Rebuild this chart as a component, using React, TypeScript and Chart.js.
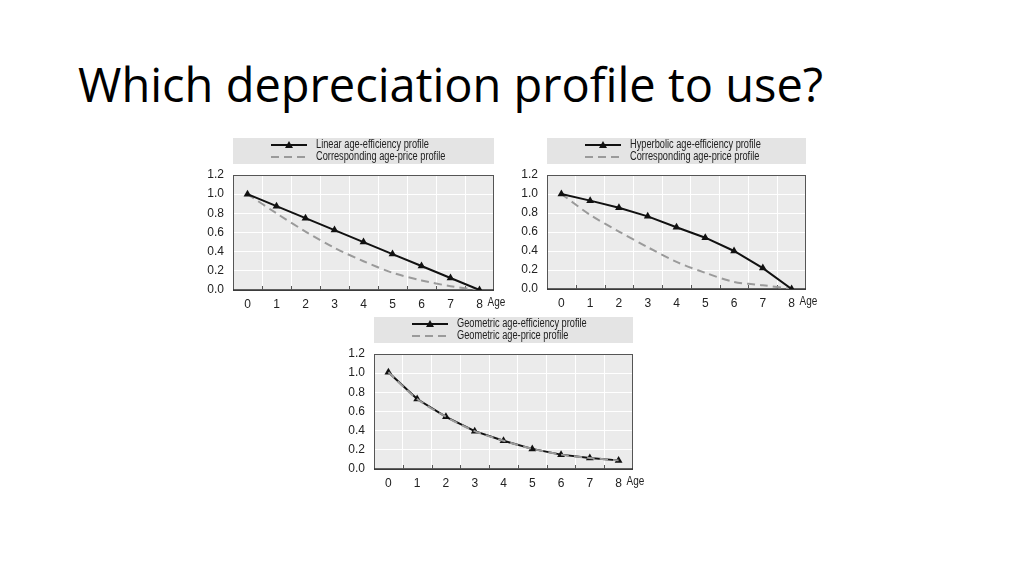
import React, { useEffect, useRef } from "react";
import { Chart, registerables } from "chart.js";

Chart.register(...registerables);

// ---- data ----
const ages = ["0", "1", "2", "3", "4", "5", "6", "7", "8"];

const linearEfficiency = [1.0, 0.875, 0.75, 0.625, 0.5, 0.375, 0.25, 0.125, 0.0];
const linearPrice = [1.0, 0.8, 0.61, 0.44, 0.3, 0.18, 0.1, 0.04, 0.0];

const hyperbolicEfficiency = [1.0, 0.93, 0.855, 0.765, 0.65, 0.54, 0.4, 0.22, 0.0];
const hyperbolicPrice = [1.0, 0.78, 0.605, 0.44, 0.285, 0.17, 0.075, 0.04, 0.0];

const geometricEfficiency = [1.01, 0.73, 0.545, 0.395, 0.295, 0.21, 0.15, 0.115, 0.09];
const geometricPrice = [1.01, 0.73, 0.545, 0.395, 0.295, 0.21, 0.15, 0.115, 0.09];

const yTicks = [0, 0.2, 0.4, 0.6, 0.8, 1.0, 1.2];

const titleText = "Which depreciation profile to use?";
const axisWord = "Age";

const chartFont = '"Liberation Sans", Arial, sans-serif';
const textColor = "#222222";

// draw horizontally condensed text (the original uses a narrow typeface)
function narrowText(ctx: any, text: string, x: number, y: number, size: number, squeeze: number) {
  ctx.save();
  ctx.font = `${size}px ${chartFont}`;
  ctx.fillStyle = textColor;
  ctx.textBaseline = "middle";
  ctx.textAlign = "left";
  ctx.translate(x, y);
  ctx.scale(squeeze, 1);
  ctx.fillText(text, 0, 0);
  ctx.restore();
}

// ---- plugins ----
const framePlugin = {
  id: "frame",
  beforeDraw(chart: any) {
    const { ctx, chartArea } = chart;
    const { left, top, right, bottom } = chartArea;
    ctx.save();
    ctx.fillStyle = "#ebebeb";
    ctx.fillRect(left, top, right - left, bottom - top);
    ctx.restore();
  },
  beforeDatasetsDraw(chart: any) {
    const { ctx, chartArea, scales } = chart;
    const { left, top, right, bottom } = chartArea;
    ctx.save();
    ctx.strokeStyle = "#555555";
    ctx.lineWidth = 1;
    ctx.strokeRect(left + 0.5, top + 0.5, right - left - 1, bottom - top);
    ctx.strokeStyle = "#333333";
    ctx.lineWidth = 1.5;
    ctx.beginPath();
    ctx.moveTo(left, bottom);
    ctx.lineTo(right, bottom);
    ctx.stroke();
    // small inward tick marks between categories
    const xs = scales.x;
    ctx.lineWidth = 1;
    ctx.strokeStyle = "#555555";
    for (let i = 1; i < ages.length; i++) {
      const x = Math.round((xs.getPixelForValue(i - 1) + xs.getPixelForValue(i)) / 2) + 0.5;
      ctx.beginPath();
      ctx.moveTo(x, bottom);
      ctx.lineTo(x, bottom - 4);
      ctx.stroke();
    }
    ctx.restore();
  },
  afterDraw(chart: any) {
    const { ctx, chartArea, scales } = chart;
    const { left, right, top, bottom } = chartArea;
    ctx.save();
    // "Age" label next to last category
    const xs = scales.x;
    narrowText(ctx, axisWord, xs.getPixelForValue(ages.length - 1) + 8, bottom + 13, 12.5, 0.8);

    // legend box
    const boxTop = top - 37;
    ctx.fillStyle = "#e4e4e4";
    ctx.fillRect(left, boxTop, right - left, 26);
    chart.data.datasets.forEach((ds: any, i: number) => {
      const y = boxTop + 7 + i * 12;
      const x0 = left + 38;
      const x1 = left + 74;
      ctx.save();
      ctx.strokeStyle = ds.borderColor;
      ctx.lineWidth = ds.borderWidth;
      ctx.setLineDash(ds.borderDash || []);
      ctx.beginPath();
      ctx.moveTo(x0, y);
      ctx.lineTo(x1, y);
      ctx.stroke();
      ctx.restore();
      if (ds.pointRadius > 0) {
        const cx = (x0 + x1) / 2;
        ctx.fillStyle = ds.pointBackgroundColor;
        ctx.beginPath();
        ctx.moveTo(cx, y - 4);
        ctx.lineTo(cx + 4, y + 3);
        ctx.lineTo(cx - 4, y + 3);
        ctx.closePath();
        ctx.fill();
      }
      narrowText(ctx, ds.label, left + 83, y, 12, 0.77);
    });
    ctx.restore();
  },
};

type Props = {
  left: number;
  top: number;
  plotW: number;
  plotH: number;
  effLabel: string;
  priceLabel: string;
  eff: number[];
  price: number[];
  priceOnTop?: boolean;
};

const PAD_TOP = 43;
const Y_W = 40;
const PAD_RIGHT = 30;
const X_H = 24;

function ProfileChart(p: Props) {
  const ref = useRef<HTMLCanvasElement | null>(null);
  useEffect(() => {
    if (!ref.current) return;
    const effDs: any = {
      label: p.effLabel,
      data: p.eff,
      borderColor: "#111111",
      backgroundColor: "#111111",
      borderWidth: 2,
      pointStyle: "triangle",
      pointRadius: 4.5,
      pointBackgroundColor: "#111111",
      pointBorderColor: "#111111",
      pointBorderWidth: 0,
      tension: 0,
      order: p.priceOnTop ? 2 : 1,
    };
    const priceDs: any = {
      label: p.priceLabel,
      data: p.price,
      borderColor: "#9a9a9a",
      backgroundColor: "#9a9a9a",
      borderWidth: 2,
      borderDash: [8, 5],
      pointRadius: 0,
      tension: 0.3,
      order: p.priceOnTop ? 1 : 2,
    };
    const chart = new Chart(ref.current, {
      type: "line",
      data: { labels: ages, datasets: [effDs, priceDs] },
      options: {
        animation: false,
        responsive: false,
        maintainAspectRatio: false,
        layout: { padding: { top: PAD_TOP, right: PAD_RIGHT, left: 0, bottom: 0 } },
        plugins: { legend: { display: false }, tooltip: { enabled: false }, title: { display: false } },
        scales: {
          x: {
            type: "category",
            offset: true,
            grid: { offset: true, color: "#ffffff", lineWidth: 1, drawTicks: false },
            border: { display: false },
            ticks: { font: { family: chartFont, size: 12 }, color: textColor, padding: 7, maxRotation: 0 },
            afterFit(scale: any) {
              scale.height = X_H;
            },
          },
          y: {
            min: 0,
            max: 1.2,
            afterBuildTicks(scale: any) {
              scale.ticks = yTicks.map((v) => ({ value: v }));
            },
            grid: { color: "#ffffff", lineWidth: 1, drawTicks: false },
            border: { display: false },
            ticks: {
              font: { family: chartFont, size: 12 },
              color: textColor,
              padding: 9,
              callback: (v: any) => Number(v).toFixed(1),
            },
            afterFit(scale: any) {
              scale.width = Y_W;
            },
          },
        },
      },
      plugins: [framePlugin],
    } as any);
    return () => chart.destroy();
  }, []);
  const w = p.plotW + Y_W + PAD_RIGHT;
  const h = p.plotH + PAD_TOP + X_H;
  return (
    <div style={{ position: "absolute", left: p.left - Y_W, top: p.top - PAD_TOP, width: w, height: h }}>
      <canvas ref={ref} width={w} height={h} style={{ width: w, height: h, display: "block" }} />
    </div>
  );
}

export default function App() {
  return (
    <div
      style={{
        position: "fixed",
        left: 0,
        top: 0,
        width: 1024,
        height: 575,
        background: "#ffffff",
        overflow: "hidden",
      }}
    >
      <div
        style={{
          position: "absolute",
          left: 78,
          top: 61,
          fontFamily: '"Open Sans", "Noto Sans", sans-serif',
          fontSize: 47,
          lineHeight: 1,
          color: "#000000",
          whiteSpace: "nowrap",
        }}
      >
        {titleText}
      </div>
      <ProfileChart
        left={233}
        top={175}
        plotW={261}
        plotH={115}
        effLabel="Linear age-efficiency profile"
        priceLabel="Corresponding age-price profile"
        eff={linearEfficiency}
        price={linearPrice}
      />
      <ProfileChart
        left={547}
        top={175}
        plotW={259}
        plotH={114}
        effLabel="Hyperbolic age-efficiency profile"
        priceLabel="Corresponding age-price profile"
        eff={hyperbolicEfficiency}
        price={hyperbolicPrice}
      />
      <ProfileChart
        left={374}
        top={354}
        plotW={259}
        plotH={115}
        effLabel="Geometric age-efficiency profile"
        priceLabel="Geometric age-price profile"
        eff={geometricEfficiency}
        price={geometricPrice}
        priceOnTop
      />
    </div>
  );
}
